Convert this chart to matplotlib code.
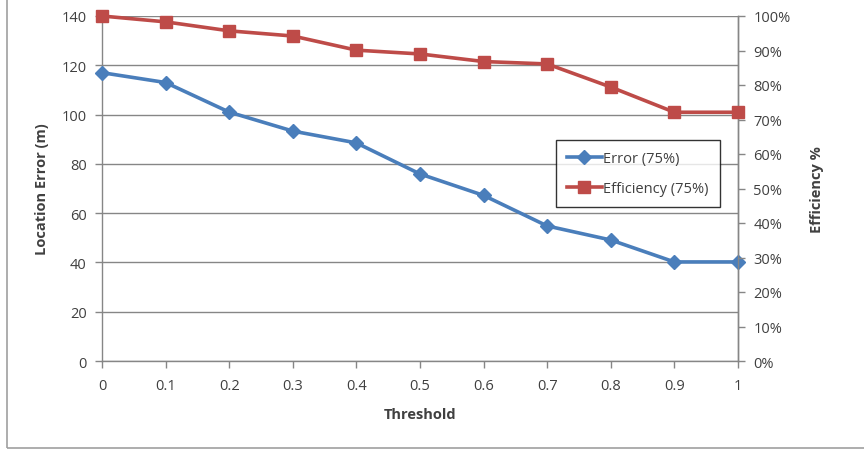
import matplotlib
matplotlib.use("Agg")
import matplotlib.pyplot as plt
from matplotlib.patches import Rectangle
from matplotlib.ticker import FuncFormatter

threshold = [0, 0.1, 0.2, 0.3, 0.4, 0.5, 0.6, 0.7, 0.8, 0.9, 1.0]
error_m = [117, 113, 101, 93.3, 88.5, 75.9, 67.2, 54.8, 49.1, 40.2, 40.2]
efficiency_pct = [100, 98.3, 95.7, 94.2, 90.1, 89.0, 86.8, 86.1, 79.4, 72.1, 72.1]
x_ticks = [0, 0.1, 0.2, 0.3, 0.4, 0.5, 0.6, 0.7, 0.8, 0.9, 1]
x_tick_labels = ["0", "0.1", "0.2", "0.3", "0.4", "0.5", "0.6", "0.7", "0.8", "0.9", "1"]
left_ticks = [0, 20, 40, 60, 80, 100, 120, 140]
right_ticks = [0, 10, 20, 30, 40, 50, 60, 70, 80, 90, 100]

plt.rcParams['font.family'] = ['Open Sans', 'DejaVu Sans']
BLUE = "#4A7EBB"
RED = "#BE4B48"
GRID = "#868686"
TXT = "#404040"
FS = 10.5

fig = plt.figure(figsize=(8.64, 4.52), dpi=100)
ax = fig.add_axes([102/864, 1 - 362/452, (738-102)/864, (362-17)/452])
ax2 = ax.twinx()

l1, = ax.plot(threshold, error_m, color=BLUE, lw=2.6, marker="D", ms=7,
              mfc=BLUE, mec=BLUE, label="Error (75%)", clip_on=False, zorder=3)
l2, = ax2.plot(threshold, efficiency_pct, color=RED, lw=2.6, marker="s", ms=9,
               mfc=RED, mec=RED, label="Efficiency (75%)", clip_on=False, zorder=3)

ax.set_xlim(0, 1)
ax.set_ylim(0, 140)
ax2.set_ylim(0, 100)
ax.set_xticks(x_ticks)
ax.set_xticklabels(x_tick_labels)
ax.set_yticks(left_ticks)
ax2.set_yticks(right_ticks)
ax2.yaxis.set_major_formatter(FuncFormatter(lambda v, p: f"{int(v)}%"))

ax.grid(axis="y", color=GRID, lw=1.0)
ax.set_axisbelow(True)

for a in (ax, ax2):
    for s in a.spines.values():
        s.set_color(GRID)
        s.set_linewidth(1.0)
    a.spines["top"].set_visible(False)
    a.tick_params(colors=GRID, labelcolor=TXT, labelsize=FS, length=5, width=1)
ax2.spines["left"].set_visible(False)
ax2.spines["bottom"].set_visible(False)
ax.tick_params(axis="x", pad=7)
ax.tick_params(axis="y", pad=6)
ax2.tick_params(axis="y", pad=6)

ax.set_xlabel("Threshold", fontsize=FS, fontweight="bold", color=TXT, labelpad=10)
ax.set_ylabel("Location Error (m)", fontsize=FS, fontweight="bold", color=TXT, labelpad=9)
ax2.set_ylabel("Efficiency %", fontsize=FS, fontweight="bold", color=TXT, labelpad=14)

leg = ax2.legend(handles=[l1, l2], loc="upper left",
                 bbox_to_anchor=((556-102)/636, 1 - (141-17)/345),
                 frameon=True, fancybox=False, fontsize=FS, handlelength=2.4,
                 handletextpad=0.1, borderpad=0.75, labelspacing=1.05,
                 labelcolor=TXT, borderaxespad=0)
leg.get_frame().set_edgecolor("#000000")
leg.get_frame().set_linewidth(1.0)

# outer chart frame
fig.patches.append(Rectangle((7/864, 3/452), 1.2, 1.2, transform=fig.transFigure,
                             fill=False, edgecolor="#A0A0A0", lw=1.2))

fig.savefig("out.png", dpi=100)
